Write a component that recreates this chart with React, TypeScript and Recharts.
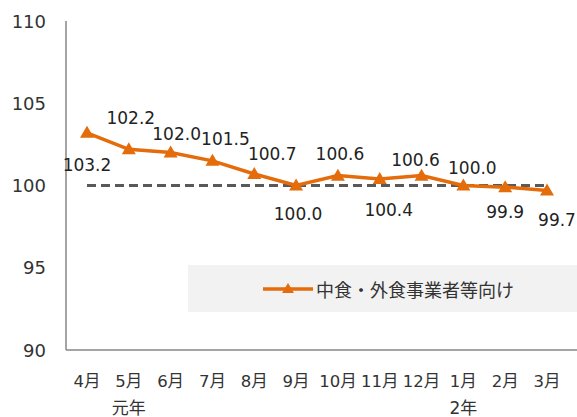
import React from 'react';
import { LineChart, Line, XAxis, YAxis, ReferenceLine, LabelList } from 'recharts';

const months = ['4月', '5月', '6月', '7月', '8月', '9月', '10月', '11月', '12月', '1月', '2月', '3月'];
const yearLabels = ['', '元年', '', '', '', '', '', '', '', '2年', '', ''];
const values = [103.2, 102.2, 102.0, 101.5, 100.7, 100.0, 100.6, 100.4, 100.6, 100.0, 99.9, 99.7];
const yTicks = [90, 95, 100, 105, 110];
const seriesName = '中食・外食事業者等向け';
const baseline = 100;

// label placement (layout only)
const labelOffsets: [number, number][] = [
  [0, 32], [2, -31], [6, -19], [13, -22], [18, -20], [2, 28],
  [2, -22], [9, 31], [-6, -16], [9, -18], [0, 25], [10, 30],
];

const data = months.map((m, i) => ({ month: m, year: yearLabels[i], value: values[i] }));

const ORANGE = '#E46C0A';
const TEXT = '#333333';
const FONT = '"DejaVu Sans", "Noto Sans CJK JP", sans-serif';
const CJK = '"Noto Sans CJK JP", sans-serif';

const Triangle = (props: any) => {
  const { cx, cy } = props;
  if (cx == null || cy == null) return null;
  return <path d={`M${cx},${cy - 7} L${cx + 7},${cy + 5} L${cx - 7},${cy + 5} Z`} fill={ORANGE} />;
};

const XTick = (props: any) => {
  const { x, payload, index } = props;
  const yr = yearLabels[index];
  return (
    <g>
      <text x={x} y={381} textAnchor="middle" dominantBaseline="central" fontSize={16.5} fill={TEXT} fontFamily={FONT}>
        {payload.value}
      </text>
      {yr ? (
        <text x={x} y={408} textAnchor="middle" dominantBaseline="central" fontSize={17} fill={TEXT} fontFamily={FONT}>
          {yr}
        </text>
      ) : null}
    </g>
  );
};

const YTick = (props: any) => {
  const { y, payload } = props;
  return (
    <text x={46} y={y} textAnchor="end" dominantBaseline="central" fontSize={18} fill={TEXT} fontFamily={FONT}>
      {payload.value}
    </text>
  );
};

const DataLabel = (props: any) => {
  const { x, y, value, index } = props;
  const [dx, dy] = labelOffsets[index] || [0, -20];
  return (
    <text x={x + dx} y={y + dy} textAnchor="middle" dominantBaseline="central" fontSize={17} fill="#222222" fontFamily={FONT}>
      {Number(value).toFixed(1)}
    </text>
  );
};

export default function App() {
  return (
    <div style={{ position: 'absolute', left: 0, top: 0, width: 577, height: 417, background: '#fff' }}>
      <div
        style={{
          position: 'absolute', left: 188, top: 265, width: 389, height: 47, background: '#F2F2F2',
          display: 'flex', alignItems: 'center', boxSizing: 'border-box', paddingLeft: 75,
        }}
      >
        <svg width={50} height={14} style={{ display: 'block' }}>
          <line x1={0} y1={7} x2={50} y2={7} stroke={ORANGE} strokeWidth={3.5} />
          <path d="M25,1 L31,11 L19,11 Z" fill={ORANGE} />
        </svg>
        <span style={{ fontFamily: CJK, fontSize: 18, color: TEXT, marginLeft: 3, lineHeight: 1 }}>{seriesName}</span>
      </div>
      <div style={{ position: 'absolute', left: 0, top: 0 }}>
        <LineChart width={577} height={417} data={data} margin={{ top: 21, right: 0, bottom: 7, left: 0 }}>
          <XAxis
            dataKey="month"
            padding={{ left: 21, right: 30 }}
            axisLine={{ stroke: '#868686', strokeWidth: 1.5 }}
            tickLine={false}
            tick={<XTick />}
            height={60}
            interval={0}
          />
          <YAxis
            domain={[90, 110]}
            ticks={yTicks}
            width={66}
            axisLine={{ stroke: '#868686', strokeWidth: 1.5 }}
            tickLine={false}
            tick={<YTick />}
            interval={0}
          />
          <ReferenceLine
            segment={[{ x: months[0], y: baseline }, { x: months[months.length - 1], y: baseline }]}
            stroke="#595959"
            strokeWidth={3}
            strokeDasharray="9 5"
            ifOverflow="visible"
          />
          <Line
            type="linear"
            dataKey="value"
            name={seriesName}
            stroke={ORANGE}
            strokeWidth={3.5}
            dot={<Triangle />}
            activeDot={false}
            isAnimationActive={false}
          >
            <LabelList dataKey="value" content={<DataLabel />} />
          </Line>
        </LineChart>
      </div>
    </div>
  );
}
